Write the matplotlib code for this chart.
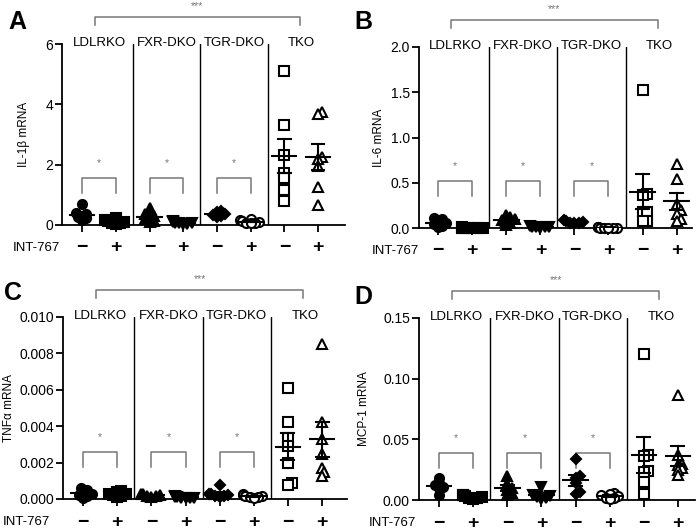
import numpy as np
import matplotlib
matplotlib.use('Agg')
import matplotlib.pyplot as plt
from matplotlib import transforms
from matplotlib.ticker import FormatStrFormatter

plt.rcParams['font.family'] = ['Liberation Sans', 'DejaVu Sans']

#----------------------------------------------------------------DATA

genotypes = ['LDLRKO', 'FXR-DKO', 'TGR-DKO', 'TKO']
int767 = ['\u2212', '+'] * 4

# order: LDLRKO -, +, FXR-DKO -, +, TGR-DKO -, +, TKO -, +
il1b = [
    [0.68, 0.40, 0.36, 0.31, 0.27, 0.22, 0.17],
    [0.24, 0.15, 0.12, 0.10, 0.07, 0.05, 0.03],
    [0.58, 0.36, 0.30, 0.26, 0.20, 0.13, 0.10],
    [0.12, 0.10, 0.08, 0.06, 0.05, 0.04, 0.03],
    [0.46, 0.42, 0.37, 0.33, 0.29, 0.25],
    [0.20, 0.16, 0.13, 0.10, 0.08, 0.06, 0.05],
    [5.10, 3.30, 2.32, 1.72, 1.55, 1.16, 0.78],
    [3.75, 3.68, 2.25, 2.20, 1.96, 1.26, 0.66],
]
il6 = [
    [0.11, 0.10, 0.07, 0.05, 0.04, 0.02, 0.01],
    [0.006, 0.005, 0.004, 0.004, 0.003, 0.002, 0.002],
    [0.14, 0.12, 0.10, 0.09, 0.08, 0.06, 0.03],
    [0.02, 0.015, 0.01, 0.01, 0.006, 0.005],
    [0.09, 0.08, 0.07, 0.06, 0.06, 0.05],
    [0.012, 0.009, 0.007, 0.005, 0.004, 0.003, 0.002, 0.001],
    [1.53, 0.38, 0.36, 0.18, 0.18, 0.08, 0.08],
    [0.71, 0.54, 0.27, 0.20, 0.16, 0.10, 0.08],
]
tnfa = [
    [0.0006, 0.00048, 0.0004, 0.0003, 0.00022, 0.00015, 0.00008],
    [0.00042, 0.00038, 0.0003, 0.00025, 0.0002, 0.00015, 0.0001],
    [0.0003, 0.00025, 0.0002, 0.00018, 0.00015, 0.0001],
    [0.00015, 0.00012, 0.0001, 0.00008, 0.00006, 0.00005, 0.00003],
    [0.00075, 0.0003, 0.00025, 0.0002, 0.00018, 0.00015, 0.0001],
    [0.00025, 0.0002, 0.00018, 0.00015, 0.00012, 0.0001, 0.00008],
    [0.00609, 0.00423, 0.00333, 0.0029, 0.0020, 0.00086, 0.00077],
    [0.00852, 0.00423, 0.0033, 0.0025, 0.0017, 0.00146, 0.00126],
]
mcp1 = [
    [0.0184, 0.0137, 0.0124, 0.011, 0.0096, 0.0041],
    [0.004, 0.0038, 0.003, 0.0025, 0.002, 0.0015, 0.001],
    [0.020, 0.013, 0.010, 0.008, 0.006, 0.004],
    [0.011, 0.004, 0.003, 0.0025, 0.002, 0.001],
    [0.0335, 0.020, 0.018, 0.0137, 0.0063, 0.005],
    [0.006, 0.005, 0.004, 0.003, 0.002, 0.0015, 0.001],
    [0.120, 0.037, 0.036, 0.024, 0.023, 0.0146, 0.0047],
    [0.0865, 0.037, 0.030, 0.029, 0.026, 0.025, 0.0206],
]

markers = ['o', 's', '^', 'v', 'D', 'o', 's', '^']
filled = [True, True, True, True, True, False, False, False]

#----------------------------------------------------------------HELPERS

W, H = 697, 531
fig = plt.figure(figsize=(W / 100, H / 100), dpi=100)


def px_axes(left, top, right, bottom):
    return fig.add_axes([left / W, 1 - bottom / H, (right - left) / W, (bottom - top) / H])


def swarm_x(ax, x0, vals, dpx):
    # push overlapping dots sideways, prism style
    trans = ax.transData
    pts = trans.transform(np.column_stack([np.full(len(vals), x0), vals]))
    order = np.argsort(pts[:, 1])
    placed = []
    xs = np.zeros(len(vals))
    for i in order:
        px, py = pts[i]
        cx = px
        for k in [0, 1, -1, 2, -2, 3, -3, 4, -4, 5, -5]:
            cx = px + k * dpx * 0.5
            if all((cx - qx) ** 2 + (py - qy) ** 2 >= dpx ** 2 for qx, qy in placed):
                break
        placed.append((cx, py))
        xs[i] = cx
    back = trans.inverted().transform(np.column_stack([xs, pts[:, 1]]))
    return back[:, 0]


def draw_panel(ax, data, ylabel, ymax, ystep, fmt, xlim, ylab_x, int_x):
    ax.set_xlim(*xlim)
    ax.set_ylim(0, ymax)
    ax.set_yticks(np.arange(0, ymax + ystep / 2, ystep))
    ax.yaxis.set_major_formatter(FormatStrFormatter(fmt))
    ax.set_xticks(range(8))
    ax.set_xticklabels([])
    for s in ['top', 'right']:
        ax.spines[s].set_visible(False)
    for s in ['left', 'bottom']:
        ax.spines[s].set_linewidth(1.3)
    ax.tick_params(axis='both', direction='out', length=5, width=1.3, labelsize=10, pad=1.5)
    ax.set_ylabel(ylabel, fontsize=8.5)
    ax.yaxis.set_label_coords(ylab_x, 0.5)

    for i, vals in enumerate(data):
        vals = np.array(vals)
        xs = swarm_x(ax, i, vals, 4.2)
        ms = 5 if markers[i] == 'D' else 6.5
        ax.plot(xs, vals, linestyle='none', marker=markers[i], ms=ms,
                mfc='black' if filled[i] else 'white', mec='black', mew=1.5,
                clip_on=False, zorder=3)
        m = vals.mean()
        sem = vals.std(ddof=1) / np.sqrt(len(vals))
        ax.plot([i - 0.36, i + 0.36], [m, m], color='black', lw=1.5, zorder=4)
        ax.plot([i, i], [m - sem, m + sem], color='black', lw=1.5, zorder=4)
        for y in (m - sem, m + sem):
            ax.plot([i - 0.19, i + 0.19], [y, y], color='black', lw=1.5, zorder=4)

    for xd in (1.5, 3.5, 5.5):
        ax.axvline(xd, color='black', lw=1.0)

    blend = transforms.blended_transform_factory(ax.transData, ax.transAxes)
    for g, name in enumerate(genotypes):
        ax.text(2 * g + 0.5, 1.005, name, transform=blend, ha='center', va='center', fontsize=9.5)
    for i, s in enumerate(int767):
        ax.text(i, -0.127, s, transform=blend, ha='center', va='center',
                fontsize=14, fontweight='bold')
    ax.text(int_x, -0.127, 'INT-767', transform=ax.transAxes, ha='right', va='center', fontsize=9.5)

    # pairwise brackets
    for g in range(3):
        x0, x1 = 2 * g, 2 * g + 1
        ax.plot([x0, x0, x1, x1], [0.175, 0.26, 0.26, 0.175], color='#777777', lw=1.1,
                transform=blend)
        ax.text(2 * g + 0.5, 0.34, '*', transform=blend, ha='center', va='center',
                fontsize=7.5, color='#777777')
    # top bracket
    ax.plot([0.38, 0.38, 6.45, 6.45], [1.105, 1.15, 1.15, 1.105], color='#777777', lw=1.1,
            transform=blend, clip_on=False)
    ax.text((0.38 + 6.45) / 2, 1.21, '***', transform=blend, ha='center', va='center',
            fontsize=7.5, color='#777777')


#----------------------------------------------------------------PLOTS

axA = px_axes(62, 44, 345, 225)
draw_panel(axA, il1b, 'IL-1\u03b2 mRNA', 6, 2, '%d', (-0.6, 7.8), -0.113, -0.007)
axB = px_axes(419, 47, 692, 228)
draw_panel(axB, il6, 'IL-6 mRNA', 2.0, 0.5, '%.1f', (-0.56, 7.45), -0.125, -0.0)
axC = px_axes(63, 317, 347, 499)
draw_panel(axC, tnfa, 'TNF\u03b1 mRNA', 0.010, 0.002, '%.3f', (-0.59, 7.73), -0.169, -0.046)
axD = px_axes(419, 318, 695, 500)
draw_panel(axD, mcp1, 'MCP-1 mRNA', 0.15, 0.05, '%.2f', (-0.59, 7.5), -0.178, -0.01)

for letter, x, y in [('A', 8, 22), ('B', 354, 22), ('C', 4, 293), ('D', 354, 297)]:
    fig.text(x / W, 1 - y / H, letter, fontsize=18, fontweight='bold', ha='left', va='center')

fig.savefig('out.png', dpi=100)
